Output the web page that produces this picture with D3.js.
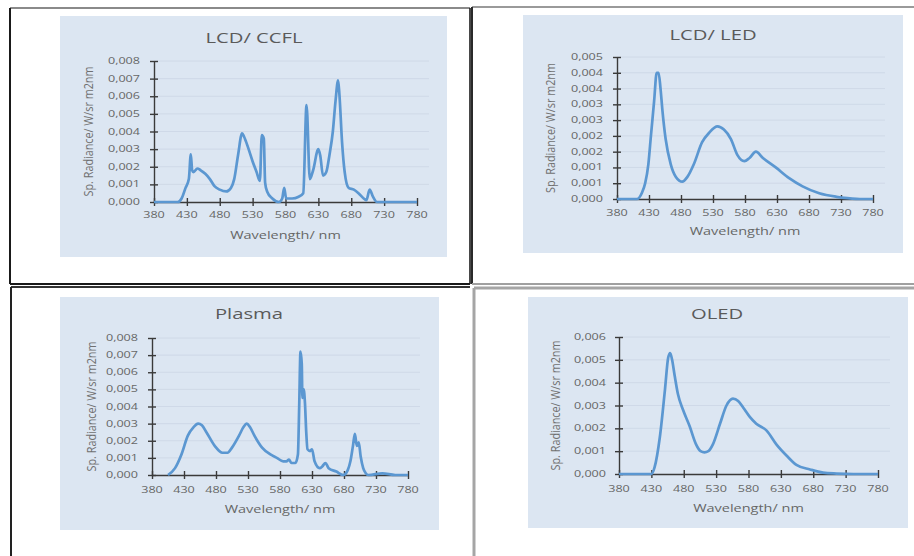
<!DOCTYPE html>
<meta charset="utf-8">
<style>
body { margin: 0; background: #fff; }
svg { display: block; }
.axis path, .axis line { stroke: #3a3a3a; stroke-width: 1.4; fill: none; }
.grid line { stroke: #cbd6e4; stroke-width: 0.8; }
text { font-family: "Open Sans", sans-serif; fill: #666; }
.title { font-size: 15px; fill: #5a5a5a; }
.tick-label { font-size: 9px; }
.axis-title { font-size: 10px; }
.y-title { font-size: 10.8px; fill: #707070; }
.spectrum { fill: none; stroke: #5b97d1; stroke-width: 2.7; stroke-linejoin: round; }
</style>
<div id="chart"></div>
<script src="https://d3js.org/d3.v7.min.js"></script>
<script>
// spectra: [wavelength nm, radiance]
var ccfl = [[380,0],[400,0],[416,0],[422,0.0002],[428,0.0008],[433,0.0013],[436,0.0027],[438,0.0018],[440,0.0017],[446,0.0019],[451,0.0018],[458,0.0016],[465,0.0013],[472,0.0009],[480,0.0007],[490,0.0006],[497,0.0008],[502,0.0013],[508,0.0027],[514,0.0039],[517,0.0037],[523,0.0031],[530,0.0023],[536,0.0017],[541,0.0012],[544,0.0038],[547,0.0036],[549,0.0011],[552,0.0006],[560,0.0002],[570,0],[575,0.0002],[578,0.0008],[581,0.0002],[590,0.0002],[600,0.0003],[607,0.0005],[612,0.0055],[617,0.0013],[622,0.0018],[630,0.0030],[633,0.0026],[637,0.0015],[642,0.0017],[647,0.0027],[652,0.0040],[656,0.0057],[660,0.0069],[662,0.0061],[666,0.0034],[670,0.0017],[676,0.0008],[684,0.0007],[691,0.0005],[699,0.0002],[703,0.0001],[708,0.0007],[713,0.0003],[719,0],[740,0],[780,0]];
var led = [[380,0],[400,0],[411,0],[419,0.0002],[424,0.0005],[429,0.0011],[433,0.0020],[438,0.0031],[442,0.0040],[445,0.0040],[448,0.0035],[451,0.0028],[456,0.0019],[464,0.0011],[472,0.0007],[482,0.00055],[490,0.0007],[500,0.0011],[513,0.0018],[524,0.0021],[537,0.0023],[547,0.0022],[558,0.0019],[568,0.0014],[579,0.0012],[587,0.0013],[597,0.0015],[608,0.0013],[628,0.0010],[649,0.00066],[670,0.0004],[696,0.00018],[723,0.00007],[740,0.00003],[764,0],[780,0]];
var plasma = [[405,0],[416,0.0004],[426,0.0012],[436,0.0023],[445,0.0028],[452,0.0030],[458,0.0029],[465,0.0025],[478,0.0017],[490,0.0013],[498,0.0013],[505,0.0016],[516,0.0023],[523,0.0028],[528,0.0030],[533,0.0028],[540,0.0023],[552,0.0016],[565,0.0012],[575,0.0010],[585,0.0008],[590,0.0008],[594,0.0009],[598,0.0007],[604,0.0007],[608,0.0012],[610,0.0040],[612,0.0072],[614,0.0065],[615,0.0045],[617,0.0050],[619,0.0042],[621,0.0025],[623,0.0015],[627,0.0014],[630,0.0015],[634,0.0008],[642,0.0004],[646,0.0005],[651,0.0007],[656,0.0004],[668,0.0002],[679,0],[686,0.0003],[690,0.0008],[694,0.0017],[697,0.0024],[700,0.0017],[703,0.0019],[706,0.0011],[710,0.0004],[714,0.0001],[718,0],[740,0.0001],[760,0],[780,0]];
var oled = [[380,0],[420,0],[430,0],[435,0.0003],[443,0.0016],[451,0.0037],[456,0.0051],[459,0.0053],[462,0.0050],[466,0.0043],[471,0.0035],[479,0.0028],[489,0.0021],[499,0.0013],[506,0.0010],[512,0.00095],[518,0.0010],[525,0.0013],[536,0.0022],[546,0.0030],[556,0.0033],[564,0.0032],[572,0.0029],[582,0.0025],[592,0.0022],[608,0.0019],[623,0.0013],[639,0.0008],[654,0.0004],[675,0.0002],[695,0.00006],[716,0.00002],[742,0],[780,0]];

var titles = ["LCD/ CCFL", "LCD/ LED", "Plasma", "OLED"];
var xTicks = [380, 430, 480, 530, 580, 630, 680, 730, 780];
var yTicks8 = [0, 0.001, 0.002, 0.003, 0.004, 0.005, 0.006, 0.007, 0.008];
var yTicksLed = [0, 0.0005, 0.001, 0.0015, 0.002, 0.0025, 0.003, 0.0035, 0.004, 0.0045];
var yTicks6 = [0, 0.001, 0.002, 0.003, 0.004, 0.005, 0.006];
var xTitle = "Wavelength/ nm",
    yTitle = "Sp. Radiance/ W/sr m2nm";

var W = 914, H = 556, sx = 1.4;  // the scan is stretched sideways

// layout of each chart block, in page pixels
var panels = [
  {data: ccfl,   ticks: yTicks8,   bg: [60, 16, 447, 257],  plot: [154, 61, 417, 202],  tx: 254, ty: 43,  labX: 140, ytX: 93,  xlY: 218, xtY: 239},
  {data: led,    ticks: yTicksLed, bg: [523, 15, 903, 253], plot: [617, 57, 873, 199],  tx: 713, ty: 40,  labX: 603, ytX: 555, xlY: 216, xtY: 235},
  {data: plasma, ticks: yTicks8,   bg: [60, 297, 439, 530], plot: [152, 338, 408, 475], tx: 249, ty: 319, labX: 138, ytX: 96,  xlY: 493, xtY: 513},
  {data: oled,   ticks: yTicks6,   bg: [528, 297, 908, 528],plot: [619, 337, 878, 474], tx: 717, ty: 319, labX: 606, ytX: 560, xlY: 492, xtY: 512}
];

var svg = d3.select("#chart").append("svg")
  .attr("width", W)
  .attr("height", H);

// Excel style: 3 decimals, halves rounded up, comma separator
var fmt = function (d) {
  return d3.format(".3f")(Math.round(d * 1e3 + 1e-6) / 1e3).replace(".", ",");
};

function stretchText(g, x, y, s, cls, anchor, k) {
  return g.append("text")
    .attr("class", cls)
    .attr("text-anchor", anchor)
    .attr("transform", "translate(" + x + "," + y + ") scale(" + (k || sx) + ",1)")
    .text(s);
}

panels.forEach(function (p, i) {
  var g = svg.append("g");
  var yMax = p.ticks[p.ticks.length - 1];

  g.append("rect")
    .attr("x", p.bg[0]).attr("y", p.bg[1])
    .attr("width", p.bg[2] - p.bg[0]).attr("height", p.bg[3] - p.bg[1])
    .attr("fill", "#dce6f2");

  var x = d3.scaleLinear().domain([380, 780]).range([p.plot[0], p.plot[2]]),
      y = d3.scaleLinear().domain([0, yMax]).range([p.plot[3], p.plot[1]]);

  // gridlines
  g.append("g").attr("class", "grid")
    .selectAll("line").data(p.ticks.slice(1)).enter().append("line")
    .attr("x1", p.plot[0]).attr("x2", p.plot[2] + 12)
    .attr("y1", function (d) { return y(d); })
    .attr("y2", function (d) { return y(d); });

  // axes with crossing tick marks, labels added separately
  g.append("g").attr("class", "axis")
    .attr("transform", "translate(0," + p.plot[3] + ")")
    .call(d3.axisBottom(x).tickValues(xTicks).tickSize(4).tickSizeOuter(0).tickFormat(""))
    .call(function (a) { a.selectAll(".tick line").attr("y1", -4); });

  g.append("g").attr("class", "axis")
    .attr("transform", "translate(" + p.plot[0] + ",0)")
    .call(d3.axisLeft(y).tickValues(p.ticks).tickSize(4).tickSizeOuter(0).tickFormat(""))
    .call(function (a) { a.selectAll(".tick line").attr("x1", 4); });

  xTicks.forEach(function (t) {
    stretchText(g, x(t), p.xlY, t, "tick-label", "middle");
  });
  p.ticks.forEach(function (t) {
    stretchText(g, p.labX, y(t) + 3, fmt(t), "tick-label", "end");
  });

  stretchText(g, p.tx, p.ty, titles[i], "title", "middle", 1.35);
  stretchText(g, (p.plot[0] + p.plot[2]) / 2, p.xtY, xTitle, "axis-title", "middle", 1.45);

  g.append("text")
    .attr("class", "y-title")
    .attr("text-anchor", "middle")
    .attr("transform", "translate(" + p.ytX + "," + (p.plot[1] + p.plot[3]) / 2 + ") scale(1.25,1) rotate(-90)")
    .text(yTitle);

  var line = d3.line()
    .x(function (d) { return x(d[0]); })
    .y(function (d) { return y(d[1]); })
    .curve(d3.curveMonotoneX);

  g.append("path")
    .datum(p.data)
    .attr("class", "spectrum")
    .attr("d", line);
});

// frames of the four pasted blocks
var frames = [
  [10, 8, 470, 8, "#8a8a8a", 2],
  [10, 8, 10, 284, "#1a1a1a", 2],
  [470, 8, 470, 284, "#1a1a1a", 1.6],
  [10, 284, 470, 284, "#1a1a1a", 2],
  [472, 7, 914, 7, "#9a9a9a", 2],
  [472, 7, 472, 284, "#2a2a2a", 2],
  [472, 284, 914, 284, "#a0a0a0", 2],
  [11, 287, 470, 287, "#333", 2],
  [11, 287, 11, 556, "#222", 2],
  [474, 288, 914, 288, "#a5a5a5", 3],
  [474, 288, 474, 556, "#a5a5a5", 3]
];
svg.selectAll(".frame").data(frames).enter().append("line")
  .attr("class", "frame")
  .attr("x1", function (d) { return d[0]; })
  .attr("y1", function (d) { return d[1]; })
  .attr("x2", function (d) { return d[2]; })
  .attr("y2", function (d) { return d[3]; })
  .attr("stroke", function (d) { return d[4]; })
  .attr("stroke-width", function (d) { return d[5]; });
</script>
